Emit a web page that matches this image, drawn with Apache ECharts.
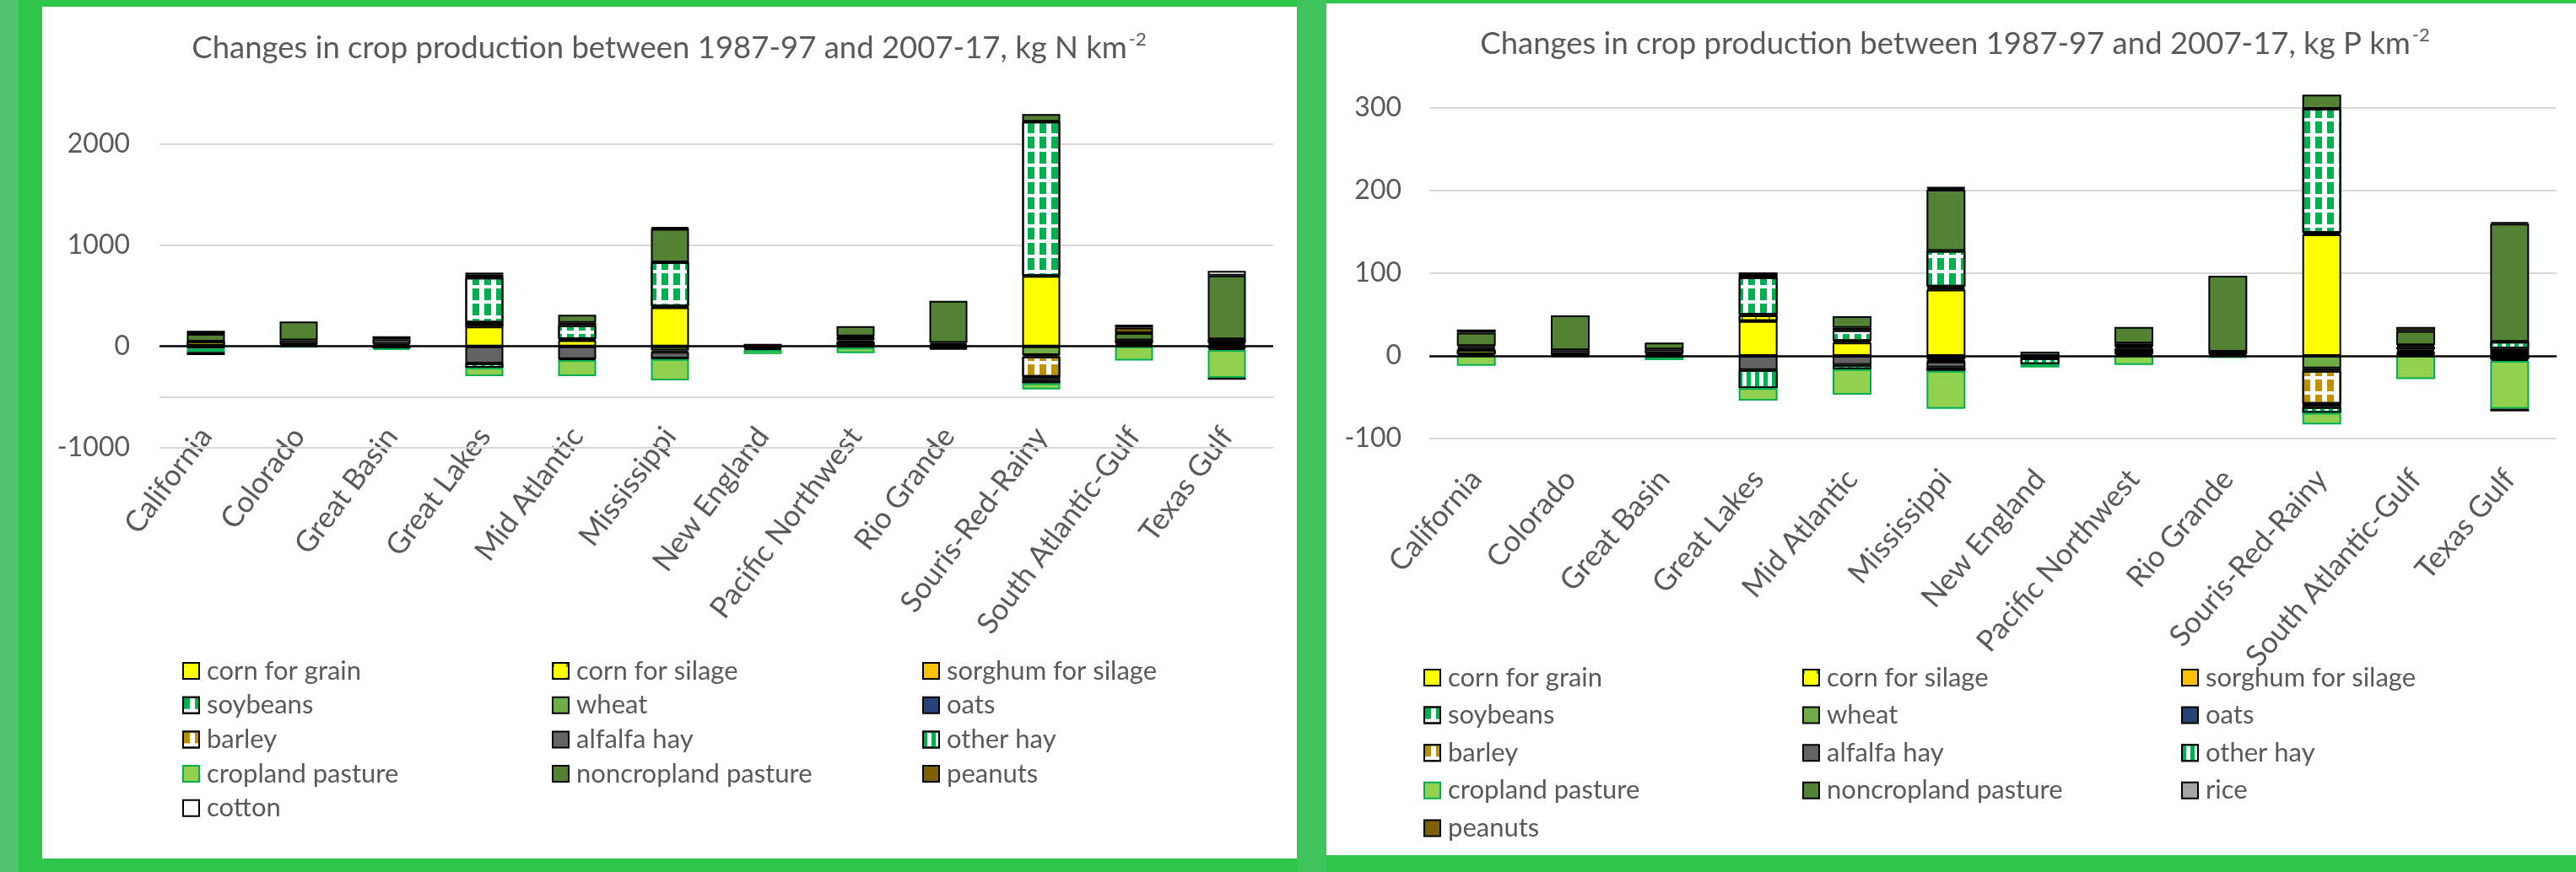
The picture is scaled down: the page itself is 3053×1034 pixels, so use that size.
<!DOCTYPE html>
<html>
<head>
<meta charset="utf-8">
<title>Changes in crop production</title>
<script src="https://cdn.jsdelivr.net/npm/echarts@6/dist/echarts.min.js"></script>
<style>
  html, body { margin: 0; padding: 0; }
  body { width: 3053px; height: 1034px; background: #2fc54d; position: relative; overflow: hidden; }
  .edge { position: absolute; left: 0; top: 0; width: 22px; height: 1034px; background: #52c470; }
  .gap { position: absolute; left: 1537px; top: 0; width: 35px; height: 1034px; background: #3fc45c; }
  .panel { position: absolute; background: #ffffff; }
  #panelN { left: 50px; top: 8px; width: 1487px; height: 1010px; }
  #panelP { left: 1572px; top: 4px; width: 1481px; height: 1010px; }
  #chart { position: absolute; left: 0; top: 0; width: 3053px; height: 1034px; }
</style>
</head>
<body>
<div class="edge"></div>
<div class="gap"></div>
<div class="panel" id="panelN"></div>
<div class="panel" id="panelP"></div>
<div id="chart"></div>
<script>
// 分类
var categories = ['California', 'Colorado', 'Great Basin', 'Great Lakes', 'Mid Atlantic', 'Mississippi',
    'New England', 'Pacific Northwest', 'Rio Grande', 'Souris-Red-Rainy', 'South Atlantic-Gulf', 'Texas Gulf'];

// N, kg N km-2
var nCornGrain   = [5, 8, 10, 195, 60, 385, 0, 10, 10, 695, 10, 15];
var nCornSilage  = [40, 0, 0, 35, 12, 10, 0, 35, 0, 0, 0, 0];
var nSorghum     = [3, 0, 0, 5, 0, 0, 0, 0, 10, 0, 0, 15];
var nSoybeans    = [0, 0, 0, 443, 135, 435, 0, 0, 0, 1525, 15, 0];
var nWheat       = [0, 12, 15, 30, 25, -40, 0, 15, 15, -85, 10, 20];
var nOats        = [0, 0, 0, 0, 0, -15, 0, 0, 0, -15, 0, 0];
var nBarley      = [0, 0, 0, 0, 0, 0, 0, -12, 0, -200, 0, -20];
var nAlfalfa     = [-22, 40, 45, -170, -125, -65, -20, 30, -20, -40, 5, -15];
var nOtherHay    = [0, 0, -20, -40, -10, -5, -15, 10, -8, -25, 20, 20];
var nCropPasture = [-33, -8, -15, -85, -160, -210, -40, -55, 0, -60, -140, -275];
var nNoncrop     = [75, 185, 30, 20, 80, 330, 25, 100, 415, 75, 70, 630];
var nPeanuts     = [30, 0, 0, 0, 0, 5, 0, 0, 0, 0, 55, -20];
var nCotton      = [-30, 0, 0, 0, 0, 15, 0, 0, 0, 0, 30, 45];

// P, kg P km-2
var pCornGrain   = [2, 1, 1, 42, 16, 80, 0, 2, 0, 147, 2, 3];
var pCornSilage  = [5, 0, 0, 7, 2, 2, 0, 4, 0, 2, 1, 0];
var pSorghum     = [1, 0, 0, 1, 0, 2, 0, 0, 0, 0, 1, 3];
var pSoybeans    = [0, 0, 0, 45, 13, 43, 0, 0, 0, 150, 2, 0];
var pWheat       = [2, 1, 2, 3, 3, -4, 0, 3, 2, -15, 2, 3];
var pOats        = [0, 0, 0, 0, 0, -2, 0, 0, 0, -3, 0, 0];
var pBarley      = [0, 0, 0, 0, 0, -1, 0, 2, 0, -40, 0, -4];
var pAlfalfa     = [2, 5, 5, -17, -11, -7, -3, 4, 3, -4, 3, -2];
var pOtherHay    = [0, 0, -2, -22, -5, -4, -7, 0, -1, -7, 2, 8];
var pCropPasture = [-12, -2, -3, -15, -31, -46, -4, -11, -1, -14, -28, -58];
var pNoncrop     = [16, 42, 8, 3, 14, 74, 5, 20, 92, 17, 17, 143];
var pRice        = [4, 0, 0, 0, 0, 2, 0, 0, 0, 0, 0, 2];
var pPeanuts     = [0, 0, 0, 0, 0, 1, 0, 0, 0, 0, 5, -3];

// 刻度
var nTicks = [-1000, 0, 1000, 2000];
var nGridLines = [2000, 1000, -500, -1000];
var pTicks = [-100, 0, 100, 200, 300];
var pGridLines = [300, 200, 100, -100];

var nSeries = [
    ['corn for grain', nCornGrain], ['corn for silage', nCornSilage], ['sorghum for silage', nSorghum],
    ['soybeans', nSoybeans], ['wheat', nWheat], ['oats', nOats], ['barley', nBarley],
    ['alfalfa hay', nAlfalfa], ['other hay', nOtherHay], ['cropland pasture', nCropPasture],
    ['noncropland pasture', nNoncrop], ['peanuts', nPeanuts], ['cotton', nCotton]
];
var pSeries = [
    ['corn for grain', pCornGrain], ['corn for silage', pCornSilage], ['sorghum for silage', pSorghum],
    ['soybeans', pSoybeans], ['wheat', pWheat], ['oats', pOats], ['barley', pBarley],
    ['alfalfa hay', pAlfalfa], ['other hay', pOtherHay], ['cropland pasture', pCropPasture],
    ['noncropland pasture', pNoncrop], ['rice', pRice], ['peanuts', pPeanuts]
];

var FONT = 'Lato';
var GREY = '#595959';

// 图案
var plaid = function (c) {
    return { symbol: 'rect', symbolSize: 1, color: c, dashArrayX: [8, 6], dashArrayY: [14, 4] };
};
var cropStyles = {
    'corn for grain':      { color: '#ffff00' },
    'corn for silage':     { color: '#ffff00', decal: { symbol: 'rect', symbolSize: 1, color: '#4a8a2a', dashArrayX: [2, 14], dashArrayY: [5, 12] } },
    'sorghum for silage':  { color: '#ffc000' },
    'soybeans':            { color: '#ffffff', decal: plaid('#00b050') },
    'wheat':               { color: '#70ad47' },
    'oats':                { color: '#264478' },
    'barley':              { color: '#ffffff', decal: plaid('#bf9000') },
    'alfalfa hay':         { color: '#636363' },
    'other hay':           { color: '#ffffff', decal: { symbol: 'rect', symbolSize: 1, color: '#00b050', dashArrayX: [5, 5], dashArrayY: [10, 0] } },
    'cropland pasture':    { color: '#92d050', borderColor: '#00b050' },
    'noncropland pasture': { color: '#548235' },
    'rice':                { color: '#a5a5a5' },
    'peanuts':             { color: '#7f6000' },
    'cotton':              { color: '#ffffff' }
};

var showEchart = {
    chart: null,
    init: function (id) {
        this.chart = echarts.init(document.getElementById(id), null, { renderer: 'canvas' });
        return this.chart;
    },
    /**
     * 一个面板的系列
     */
    buildSeries: function (list, idx, stack, width, gridValues) {
        return list.map(function (item, i) {
            var st = cropStyles[item[0]];
            var s = {
                type: 'bar',
                name: item[0],
                stack: stack,
                xAxisIndex: idx,
                yAxisIndex: idx,
                barWidth: width,
                data: item[1].map(function (v) { return v === 0 ? null : v; }),
                itemStyle: {
                    color: st.color,
                    borderColor: st.borderColor || '#000000',
                    borderWidth: 2,
                    decal: st.decal || null
                }
            };
            if (i === 0) {
                s.markLine = {
                    silent: true, symbol: 'none', z: 1, animation: false,
                    label: { show: false },
                    lineStyle: { color: '#d9d9d9', width: 2, type: 'solid' },
                    data: gridValues.map(function (v) { return { yAxis: v }; })
                };
            }
            if (i === list.length - 1) {
                s.markLine = {
                    silent: true, symbol: 'none', animation: false,
                    label: { show: false },
                    lineStyle: { color: '#000000', width: 2.5, type: 'solid' },
                    data: [{ yAxis: 0 }]
                };
            }
            return s;
        });
    },
    legendColumn: function (names, left, top, gap) {
        return {
            left: left, top: top, height: 320, orient: 'vertical', icon: 'rect',
            itemWidth: 19, itemHeight: 19, itemGap: gap, selectedMode: false,
            data: names,
            textStyle: { fontFamily: FONT, fontSize: 31, color: GREY, padding: [0, 0, 0, 4] }
        };
    },
    title: function (x, y, unit) {
        return {
            type: 'text', x: x, y: y, silent: true,
            style: {
                text: '{a|Changes in crop production between 1987-97 and 2007-17, kg ' + unit + ' km}{s|-2}',
                align: 'center', verticalAlign: 'middle',
                rich: {
                    a: { fontFamily: FONT, fontSize: 36.5, fill: GREY, lineHeight: 40, verticalAlign: 'bottom' },
                    s: { fontFamily: FONT, fontSize: 22, fill: GREY, lineHeight: 40, verticalAlign: 'top', padding: [0, 0, 0, 2] }
                }
            }
        };
    }
};

function valueAxis(idx, min, max, interval, ticks, margin) {
    return {
        type: 'value', gridIndex: idx, min: min, max: max, interval: interval,
        splitLine: { show: false }, axisLine: { show: false }, axisTick: { show: false },
        axisLabel: {
            fontFamily: FONT, fontSize: 32, color: GREY, margin: margin, showMaxLabel: false,
            formatter: function (v) { return ticks.indexOf(v) >= 0 ? String(v) : ''; }
        }
    };
}

function categoryAxis(idx, margin, showLabel, rot) {
    return {
        type: 'category', gridIndex: idx, data: categories,
        axisLine: { show: false }, axisTick: { show: false },
        axisLabel: { show: showLabel, interval: 0, rotate: rot, margin: margin, fontFamily: FONT, fontSize: 35, color: GREY }
    };
}

var option = {
    animation: false,
    backgroundColor: 'transparent',
    grid: [
        { left: 189, top: 110.7, width: 1320, height: 420, outerBoundsMode: 'none' },
        { left: 1694, top: 79, width: 1336, height: 441, outerBoundsMode: 'none' },
        // N 面板的分类标签单独放一个网格, 标签在 -1000 线上方
        { left: 189, top: 110.7, width: 1320, height: 392.3, outerBoundsMode: 'none' }
    ],
    xAxis: [categoryAxis(0, 8, false, 45), categoryAxis(1, 42, true, 49), categoryAxis(2, 8, true, 53)],
    yAxis: [
        valueAxis(0, -1000, 2500, 1000, nTicks, 35),
        valueAxis(1, -100, 350, 100, pTicks, 33),
        { type: 'value', gridIndex: 2, show: false }
    ],
    legend: [
        showEchart.legendColumn(['corn for grain', 'soybeans', 'barley', 'cropland pasture', 'cotton'], 211, 775, 9.7),
        showEchart.legendColumn(['corn for silage', 'wheat', 'alfalfa hay', 'noncropland pasture'], 649, 775, 9.7),
        showEchart.legendColumn(['sorghum for silage', 'oats', 'other hay', 'peanuts'], 1088, 775, 9.7),
        showEchart.legendColumn(['corn for grain', 'soybeans', 'barley', 'cropland pasture', 'peanuts'], 1682, 783, 13.6),
        showEchart.legendColumn(['corn for silage', 'wheat', 'alfalfa hay', 'noncropland pasture'], 2131, 783, 13.6),
        showEchart.legendColumn(['sorghum for silage', 'oats', 'other hay', 'rice'], 2580, 783, 13.6)
    ],
    graphic: [
        showEchart.title(793, 56, 'N'),
        showEchart.title(2317, 51, 'P')
    ],
    series: showEchart.buildSeries(nSeries, 0, 'N', 45, nGridLines)
        .concat(showEchart.buildSeries(pSeries, 1, 'P', 46, pGridLines))
};

showEchart.init('chart').setOption(option);
</script>
</body>
</html>
